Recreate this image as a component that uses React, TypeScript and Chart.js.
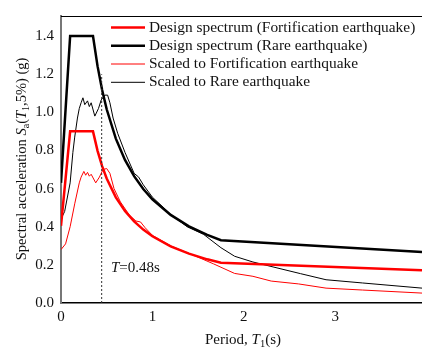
import React, { useEffect, useRef } from "react";
import { Chart, registerables } from "chart.js";

Chart.register(...registerables);

// Period values (s) and spectral accelerations (g)
const designFortT = [0, 0.1, 0.35, 0.4, 0.45, 0.5, 0.6, 0.7, 0.8, 0.9, 1.0, 1.2, 1.4, 1.6, 1.75, 3.95];
const designFortSa = [0.405, 0.9, 0.9, 0.798, 0.718, 0.653, 0.554, 0.482, 0.428, 0.385, 0.35, 0.297, 0.259, 0.229, 0.211, 0.172];

const designRareT = [0, 0.1, 0.35, 0.4, 0.45, 0.5, 0.6, 0.7, 0.8, 0.9, 1.0, 1.2, 1.4, 1.6, 1.75, 3.95];
const designRareSa = [0.63, 1.4, 1.4, 1.242, 1.117, 1.016, 0.862, 0.75, 0.665, 0.598, 0.544, 0.462, 0.402, 0.357, 0.329, 0.267];

const scaledFortT = [0, 0.05, 0.1, 0.15, 0.2, 0.22, 0.25, 0.27, 0.29, 0.31, 0.33, 0.38, 0.42, 0.46, 0.5, 0.535, 0.58, 0.65, 0.75, 0.82, 0.87, 0.92, 1.0, 1.2, 1.4, 1.52, 1.67, 1.9, 2.1, 2.3, 2.6, 2.9, 3.3, 3.95];
const scaledFortSa = [0.28, 0.31, 0.4, 0.52, 0.63, 0.66, 0.69, 0.67, 0.685, 0.665, 0.675, 0.63, 0.66, 0.7, 0.705, 0.68, 0.6, 0.53, 0.46, 0.43, 0.425, 0.395, 0.355, 0.3, 0.26, 0.236, 0.205, 0.155, 0.14, 0.115, 0.1, 0.078, 0.068, 0.052];

const scaledRareT = [0, 0.04, 0.1, 0.13, 0.15, 0.18, 0.2, 0.22, 0.24, 0.26, 0.29, 0.31, 0.33, 0.37, 0.41, 0.44, 0.48, 0.51, 0.535, 0.57, 0.62, 0.7, 0.8, 0.85, 0.9, 1.0, 1.2, 1.38, 1.56, 1.75, 1.9, 2.1, 2.33, 2.62, 2.9, 3.3, 3.95];
const scaledRareSa = [0.44, 0.48, 0.63, 0.79, 0.87, 0.97, 1.02, 1.05, 1.076, 1.04, 1.06, 1.03, 1.05, 0.98, 1.02, 1.065, 1.09, 1.09, 1.05, 0.97, 0.89, 0.79, 0.68, 0.66, 0.62, 0.555, 0.465, 0.4, 0.36, 0.29, 0.245, 0.215, 0.188, 0.154, 0.122, 0.105, 0.078];

const legendLabels = [
  "Design spectrum (Fortification earthquake)",
  "Design spectrum (Rare earthquake)",
  "Scaled to Fortification earthquake",
  "Scaled to Rare earthquake",
];

const xTicks = [0, 1, 2, 3];
const yTicks = [0, 0.2, 0.4, 0.6, 0.8, 1.0, 1.2, 1.4];
const xMax = 3.95;
const yMax = 1.505;

const markerT = 0.445;
const markerTop = 1.2;
const markerLabel = "=0.48s";

const FONT = "'Liberation Serif', 'Times New Roman', serif";

const toPts = (xs: number[], ys: number[]) => xs.map((x, i) => ({ x, y: ys[i] }));

const overlay = {
  id: "overlay",
  afterDatasetsDraw(chart: any) {
    const ctx = chart.ctx;
    const area = chart.chartArea;
    const xs = chart.scales.x;
    const ys = chart.scales.y;
    ctx.save();
    // top frame line
    ctx.strokeStyle = "#000";
    ctx.lineWidth = 1.2;
    ctx.beginPath();
    ctx.moveTo(area.left, area.top + 0.5);
    ctx.lineTo(area.right, area.top + 0.5);
    ctx.stroke();

    // dashed marker
    const mx = xs.getPixelForValue(markerT);
    ctx.strokeStyle = "#333";
    ctx.lineWidth = 1;
    ctx.setLineDash([2, 2]);
    ctx.beginPath();
    ctx.moveTo(mx, ys.getPixelForValue(0));
    ctx.lineTo(mx, ys.getPixelForValue(markerTop));
    ctx.stroke();
    ctx.setLineDash([]);

    // marker label
    ctx.fillStyle = "#111";
    ctx.textBaseline = "middle";
    ctx.textAlign = "left";
    ctx.font = `italic 15px ${FONT}`;
    let tx = 111;
    ctx.fillText("T", tx, 268);
    tx += ctx.measureText("T").width;
    ctx.font = `15px ${FONT}`;
    ctx.fillText(markerLabel, tx, 268);

    // legend
    const styles = [
      { c: "#ff0000", w: 2.5 },
      { c: "#000000", w: 2.5 },
      { c: "#ff0000", w: 1 },
      { c: "#000000", w: 1 },
    ];
    const rowY = [27.5, 45.8, 64, 82.3];
    legendLabels.forEach((lab, i) => {
      ctx.strokeStyle = styles[i].c;
      ctx.lineWidth = styles[i].w;
      ctx.beginPath();
      ctx.moveTo(111, rowY[i]);
      ctx.lineTo(145, rowY[i]);
      ctx.stroke();
      ctx.fillStyle = "#111";
      ctx.font = `15.4px ${FONT}`;
      ctx.fillText(lab, 149, rowY[i]);
    });

    // x axis title: Period, T1(s)
    const xParts = [
      { t: "Period, ", f: `15px ${FONT}`, dy: 0 },
      { t: "T", f: `italic 15px ${FONT}`, dy: 0 },
      { t: "1", f: `10.5px ${FONT}`, dy: 4 },
      { t: "(s)", f: `15px ${FONT}`, dy: 0 },
    ];
    let total = 0;
    xParts.forEach((p) => {
      ctx.font = p.f;
      total += ctx.measureText(p.t).width;
    });
    let px = 243 - total / 2;
    const py = 340;
    xParts.forEach((p) => {
      ctx.font = p.f;
      ctx.fillText(p.t, px, py + p.dy);
      px += ctx.measureText(p.t).width;
    });

    // y axis title
    const yParts = [
      { t: "Spectral acceleration ", f: `14.5px ${FONT}`, dy: 0 },
      { t: "S", f: `italic 14.5px ${FONT}`, dy: 0 },
      { t: "a", f: `10px ${FONT}`, dy: 4 },
      { t: "(", f: `14.5px ${FONT}`, dy: 0 },
      { t: "T", f: `italic 14.5px ${FONT}`, dy: 0 },
      { t: "1", f: `10px ${FONT}`, dy: 4 },
      { t: ",5%) (g)", f: `14.5px ${FONT}`, dy: 0 },
    ];
    total = 0;
    yParts.forEach((p) => {
      ctx.font = p.f;
      total += ctx.measureText(p.t).width;
    });
    ctx.translate(22, 159);
    ctx.rotate(-Math.PI / 2);
    px = -total / 2;
    yParts.forEach((p) => {
      ctx.font = p.f;
      ctx.fillText(p.t, px, p.dy);
      px += ctx.measureText(p.t).width;
    });
    ctx.restore();
  },
};

export default function App() {
  const ref = useRef<HTMLCanvasElement | null>(null);
  useEffect(() => {
    if (!ref.current) return;
    const chart = new Chart(ref.current, {
      type: "line",
      data: {
        datasets: [
          { label: legendLabels[0], data: toPts(designFortT, designFortSa), borderColor: "#ff0000", borderWidth: 2.5 },
          { label: legendLabels[1], data: toPts(designRareT, designRareSa), borderColor: "#000000", borderWidth: 2.5 },
          { label: legendLabels[2], data: toPts(scaledFortT, scaledFortSa), borderColor: "#ff0000", borderWidth: 1 },
          { label: legendLabels[3], data: toPts(scaledRareT, scaledRareSa), borderColor: "#000000", borderWidth: 1 },
        ] as any,
      },
      plugins: [overlay],
      options: {
        animation: false,
        responsive: true,
        maintainAspectRatio: false,
        elements: { point: { radius: 0 }, line: { tension: 0 } },
        layout: { padding: { top: 12, right: 0, left: 0, bottom: 0 } },
        plugins: { legend: { display: false }, tooltip: { enabled: false } },
        scales: {
          x: {
            type: "linear",
            min: 0,
            max: xMax,
            grid: { display: false, drawTicks: false },
            border: { display: true, color: "#000", width: 1.5 },
            afterBuildTicks: (s: any) => {
              s.ticks = xTicks.map((v) => ({ value: v }));
            },
            afterFit: (s: any) => {
              s.height = 47;
            },
            ticks: {
              padding: 5,
              color: "#111",
              font: { family: FONT, size: 15 },
              maxRotation: 0,
              callback: (v: any) => String(v),
            },
          },
          y: {
            type: "linear",
            min: 0,
            max: yMax,
            grid: { display: false, drawTicks: false },
            border: { display: true, color: "#777", width: 2 },
            afterBuildTicks: (s: any) => {
              s.ticks = yTicks.map((v) => ({ value: v }));
            },
            afterFit: (s: any) => {
              s.width = 61;
            },
            ticks: {
              padding: 7,
              color: "#111",
              font: { family: FONT, size: 15 },
              callback: (v: any) => Number(v).toFixed(1),
            },
          },
        },
      } as any,
    });
    return () => chart.destroy();
  }, []);
  return (
    <div style={{ position: "absolute", left: 0, top: 0, width: 422, height: 350, background: "#fff" }}>
      <canvas ref={ref} />
    </div>
  );
}
